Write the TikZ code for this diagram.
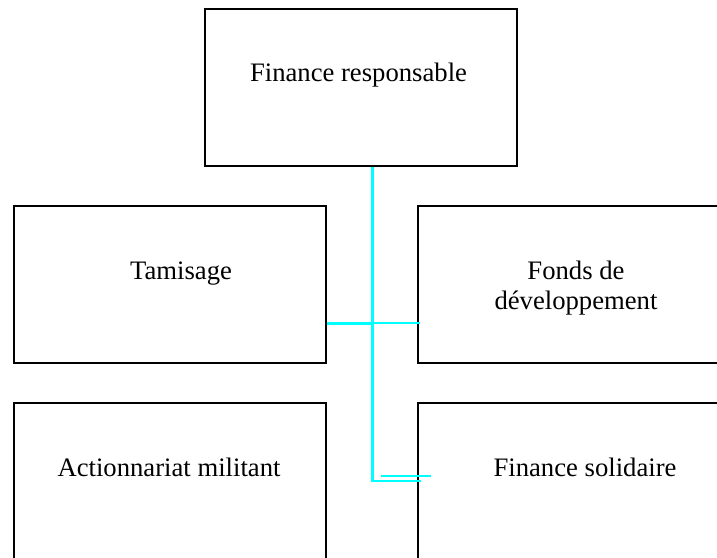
\documentclass[tikz,border=0pt]{standalone}
\usepackage{fontspec}
\setmainfont{Liberation Serif}
\definecolor{aqua}{RGB}{0,255,255}
\begin{document}
\begin{tikzpicture}[x=0.75pt,y=-0.75pt,
  box/.style={draw=black,line width=1.5pt,minimum width=312*0.75pt,minimum height=157*0.75pt,inner sep=0pt,anchor=north west},
  lbl/.style={font=\fontsize{20pt}{22.5pt}\selectfont,anchor=base,inner sep=0pt},
  conn/.style={draw=aqua,line width=1.6pt}]
\useasboundingbox (0,0) rectangle (717,557);
\clip (0,0) rectangle (717,557);
\fill[white] (0,0) rectangle (717,557);
% boxes
\node[box] (top) at (203.5,7.5) {};
\node[box] (tam) at (12.5,205) {};
\node[box] (fonds) at (417,205) {};
\node[box] (act) at (12.5,402) {};
\node[box] (sol) at (417,402) {};
% texts
\node[lbl] (ttop) at (358.5,81.5) {Finance responsable};
\node[lbl] (ttam) at (181,279.5) {Tamisage};
\node[lbl] (tfonds1) at (576,279.5) {Fonds de};
\node[lbl] (tfonds2) at (576,309.5) {développement};
\node[lbl] (tact) at (169,476.5) {Actionnariat militant};
\node[lbl] (tsol) at (585,476.5) {Finance solidaire};
% connectors
\coordinate (jv) at (372.5,323.5);
\coordinate (bot) at (372.5,481);
\coordinate (fe) at (420,323);
\coordinate (s1) at (421,481);
\coordinate (s2a) at (381,476.3);
\coordinate (s2b) at (431,476.3);
\draw[conn] (top.south -| bot) -- (bot) -- (s1);
\draw[conn] (tam.east |- jv) -- (jv);
\draw[conn] (jv |- fe) -- (fe);
\draw[conn] (s2a) -- (s2b);
\end{tikzpicture}
\end{document}
